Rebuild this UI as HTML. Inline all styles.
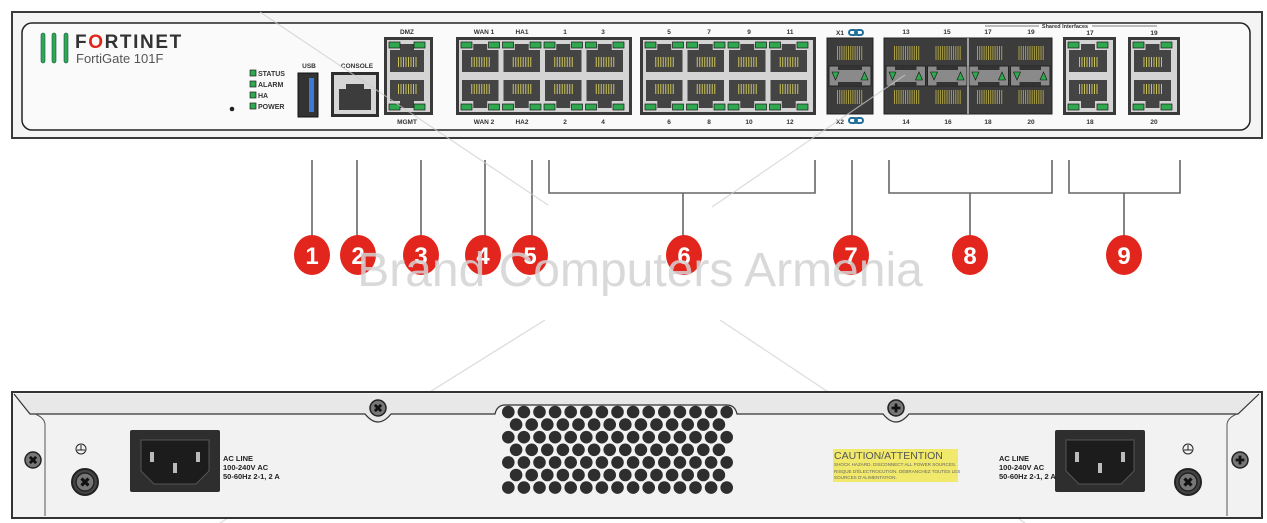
<!DOCTYPE html>
<html><head><meta charset="utf-8"><style>
html,body{margin:0;padding:0;background:#fff;width:1267px;height:523px;overflow:hidden}
svg{display:block;font-family:"Liberation Sans",Arial,sans-serif}
</style></head><body>
<svg id="s" width="1267" height="523" viewBox="0 0 1267 523" xmlns="http://www.w3.org/2000/svg">
<rect x="12" y="12" width="1250" height="126" fill="#f4f4f4" stroke="#3a3a3a" stroke-width="2"/>
<rect x="22" y="23" width="1228" height="107" rx="10" fill="#fafafa" stroke="#222" stroke-width="1.5"/>
<rect x="41" y="33" width="4" height="30" rx="2" fill="#2fa84f" stroke="#155" stroke-width=".6"/>
<rect x="52" y="33" width="4" height="30" rx="2" fill="#2fa84f" stroke="#155" stroke-width=".6"/>
<rect x="64" y="33" width="4" height="30" rx="2" fill="#2fa84f" stroke="#155" stroke-width=".6"/>
<text x="75" y="48" font-size="19" font-weight="bold" fill="#333" letter-spacing="1.6">F<tspan fill="#e0241b">O</tspan>RTINET</text>
<text x="76" y="63" font-size="13" fill="#555">FortiGate 101F</text>
<g font-size="7" font-weight="bold" fill="#333">
<rect x="250" y="70" width="6" height="6" fill="#2fa84f" stroke="#222" stroke-width=".7"/><text x="258" y="76">STATUS</text>
<rect x="250" y="81" width="6" height="6" fill="#2fa84f" stroke="#222" stroke-width=".7"/><text x="258" y="87">ALARM</text>
<rect x="250" y="92" width="6" height="6" fill="#2fa84f" stroke="#222" stroke-width=".7"/><text x="258" y="98">HA</text>
<rect x="250" y="103" width="6" height="6" fill="#2fa84f" stroke="#222" stroke-width=".7"/><text x="258" y="109">POWER</text>
</g>
<circle cx="232" cy="109" r="2.3" fill="#222"/>
<g font-size="6.5" font-weight="bold" fill="#333" text-anchor="middle">
<text x="309" y="68">USB</text><text x="357" y="68">CONSOLE</text>
<text x="407" y="34">DMZ</text><text x="407" y="124">MGMT</text>
<text x="484" y="34">WAN 1</text><text x="522" y="34">HA1</text><text x="565" y="34">1</text><text x="603" y="34">3</text>
<text x="484" y="124">WAN 2</text><text x="522" y="124">HA2</text><text x="565" y="124">2</text><text x="603" y="124">4</text>
<text x="669" y="34">5</text><text x="709" y="34">7</text><text x="749" y="34">9</text><text x="790" y="34">11</text>
<text x="669" y="124">6</text><text x="709" y="124">8</text><text x="749" y="124">10</text><text x="790" y="124">12</text>
<text x="840" y="35">X1</text><text x="840" y="124">X2</text>
<text x="906" y="34">13</text><text x="947" y="34">15</text><text x="988" y="34">17</text><text x="1031" y="34">19</text>
<text x="906" y="124">14</text><text x="948" y="124">16</text><text x="988" y="124">18</text><text x="1031" y="124">20</text>
<text x="1090" y="35">17</text><text x="1154" y="35">19</text>
<text x="1090" y="124">18</text><text x="1154" y="124">20</text>
<text x="1065" y="28" font-size="5.5">Shared Interfaces</text>
</g>
<line x1="985" y1="26" x2="1039" y2="26" stroke="#555" stroke-width=".8"/>
<line x1="1092" y1="26" x2="1157" y2="26" stroke="#555" stroke-width=".8"/>
<g fill="none" stroke="#1f6f9a" stroke-width="2"><rect x="849" y="30" width="8" height="5" rx="2.5"/><rect x="855" y="30" width="8" height="5" rx="2.5"/>
<rect x="849" y="118" width="8" height="5" rx="2.5"/><rect x="855" y="118" width="8" height="5" rx="2.5"/></g>
<rect x="298" y="73" width="20" height="44" fill="#333" stroke="#111"/>
<rect x="309" y="78" width="5" height="34" fill="#3a7bd5"/>
<rect x="331" y="72" width="48" height="45" fill="#2e2e2e"/>
<rect x="334" y="75" width="42" height="39" fill="#d6d6d6"/>
<path d="M339 89 H346 V84 H364 V89 H371 V110 H339 Z" fill="#3c3c3c"/>
<g id="fr"></g>
<g stroke="#666" stroke-width="1.6" fill="none">
<path d="M312 160V245M357 160V245M421 160V245M485 160V245M532 160V245"/>
<path d="M549 160V193H815V160M683 193V245"/>
<path d="M852 160V245"/>
<path d="M889 160V193H1052V160M970 193V245"/>
<path d="M1069 160V193H1180V160M1124 193V245"/>
</g>
<g id="nums" font-size="24" font-weight="bold" fill="#fff" text-anchor="middle"></g>
<text x="640" y="286" font-size="48" fill="#d2d2d2" fill-opacity=".85" text-anchor="middle">Brand Computers Armenia</text>
<g stroke="#ccc" stroke-width="1.2" opacity=".7">
<line x1="260" y1="12" x2="548" y2="205"/><line x1="712" y1="207" x2="905" y2="75"/>
<line x1="545" y1="320" x2="220" y2="523"/><line x1="720" y1="320" x2="1025" y2="523"/>
</g>
<path d="M12 392 H1262 V518 H12 Z" fill="#f2f2f2" stroke="#333" stroke-width="2"/>
<path d="M14 394 L30 414 H365 Q378 430 391 414 H495 Q497 405 505 405 H727 Q735 405 737 414 H883 Q896 430 909 414 H1238 L1259 394" fill="#e8e8e8" stroke="#333" stroke-width="1.2"/>
<path d="M45 516 V425 Q45 418 35 414" fill="none" stroke="#555" stroke-width="1"/>
<path d="M1227 516 V425 Q1227 418 1237 414" fill="none" stroke="#555" stroke-width="1"/>
<g id="back"></g>
<g font-size="7.5" font-weight="bold" fill="#222">
<text x="223" y="461">AC LINE</text><text x="223" y="470">100-240V AC</text><text x="223" y="479">50-60Hz 2-1, 2 A</text>
<text x="999" y="461">AC LINE</text><text x="999" y="470">100-240V AC</text><text x="999" y="479">50-60Hz 2-1, 2 A</text>
</g>
<rect x="833" y="449" width="125" height="33" fill="#f1e96b"/>
<text x="834" y="459" font-size="10.5" fill="#555">CAUTION/ATTENTION</text>
<g font-size="4.6" fill="#666"><text x="834" y="466">SHOCK HAZARD. DISCONNECT ALL POWER SOURCES.</text><text x="834" y="473">RISQUE D'ÉLECTROCUTION. DÉBRANCHEZ TOUTES LES</text><text x="834" y="479">SOURCES D'ALIMENTATION.</text></g>
</svg>
<script>
var o="";
function led(x,y){return '<rect x="'+x+'" y="'+y+'" width="11" height="6" fill="#2fa84f" stroke="#1a1a1a" stroke-width=".7"/>';}
function pins(cx,y,h){var s='';for(var i=0;i<8;i++)s+='<rect x="'+(cx-9+i*2.5)+'" y="'+y+'" width="1" height="'+h+'" fill="#c9c25a"/>';return s;}
function col(x,w){var s='',cx=x+w/2;
 s+='<path d="M'+(x+1)+' 50 H'+(cx-7)+' V44 H'+(cx+7)+' V50 H'+(x+w-1)+' V72 H'+(x+1)+' Z" fill="#444"/>'+pins(cx,57,10);
 s+='<path d="M'+(x+1)+' 80 H'+(x+w-1)+' V101 H'+(cx+7)+' V108 H'+(cx-7)+' V101 H'+(x+1)+' Z" fill="#444"/>'+pins(cx,84,10);
 s+=led(x,42)+led(x+w-11,42)+led(x,104)+led(x+w-11,104);return s;}
function block(x,n,w){var s='<rect x="'+x+'" y="37" width="'+(n*w+10)+'" height="78" fill="#3a3a3a"/><rect x="'+(x+3)+'" y="40" width="'+(n*w+4)+'" height="72" fill="#d4d4d4"/>';
 for(var i=0;i<n;i++)s+=col(x+5+i*w,w-3);return s;}
o+=block(384,1,39);o+=block(456,4,41.5);o+=block(640,4,41.5);o+=block(1063,1,43);o+=block(1128,1,42);
function sfp(x,w){var s='';
 for(var i=0;i<12;i++)s+='<rect x="'+(x+9+i*2.2)+'" y="46" width="1" height="14" fill="#a89d45"/><rect x="'+(x+9+i*2.2)+'" y="90" width="1" height="14" fill="#a89d45"/>';
 s+='<rect x="'+(x+1)+'" y="66" width="'+(w-2)+'" height="20" fill="#8a8a8a" stroke="#222"/><rect x="'+(x+10)+'" y="66" width="'+(w-20)+'" height="4" fill="#333"/><rect x="'+(x+10)+'" y="82" width="'+(w-20)+'" height="4" fill="#333"/>';
 s+='<path d="M'+(x+4)+' 72 h7 l-3.5 8z" fill="#2fa84f" stroke="#111" stroke-width=".6"/><path d="M'+(x+w-11)+' 80 h7 l-3.5 -8z" fill="#2fa84f" stroke="#111" stroke-width=".6"/>';return s;}
o+='<rect x="827" y="38" width="46" height="76" fill="#3c3c3c" stroke="#222"/>'+sfp(828,44);
o+='<rect x="884" y="38" width="168" height="76" fill="#3c3c3c" stroke="#222"/>';
for(var i=0;i<4;i++)o+=sfp(885+i*41.5,41.5);
o+='<line x1="968" y1="38" x2="968" y2="114" stroke="#fff" stroke-width="1"/>';
document.getElementById('fr').innerHTML=o;
var n=[[312,1],[358,2],[421,3],[483,4],[530,5],[684,6],[851,7],[970,8],[1124,9]],t='';
n.forEach(function(a){t+='<ellipse cx="'+a[0]+'" cy="255" rx="18" ry="20" fill="#e3261d"/><text x="'+a[0]+'" y="264">'+a[1]+'</text>';});
document.getElementById('nums').innerHTML=t;
var b='';
for(var r=0;r<7;r++){var off=r%2?7.8:0,c=r%2?14:15;for(var k=0;k<c;k++)b+='<circle cx="'+(508.3+off+k*15.6)+'" cy="'+(412+r*12.6)+'" r="6.3" fill="#2e2e2e"/>';}
function screw(x,y,r,plus){return '<circle cx="'+x+'" cy="'+y+'" r="'+r+'" fill="#777" stroke="#222" stroke-width="1.5"/><path d="M'+(x-r*0.55)+' '+y+'H'+(x+r*0.55)+'M'+x+' '+(y-r*0.55)+'V'+(y+r*0.55)+'" stroke="#111" stroke-width="'+(r*0.35)+'" '+(plus?'':'transform="rotate(45 '+x+' '+y+')"')+'/>';}
b+=screw(378,408,8,0)+screw(896,408,8,1)+screw(33,460,8,0)+screw(1240,460,8,1);
b+='<circle cx="85" cy="482" r="13" fill="#444" stroke="#222" stroke-width="2"/>'+screw(85,482,9,0);
b+='<circle cx="1188" cy="482" r="13" fill="#444" stroke="#222" stroke-width="2"/>'+screw(1188,482,9,0);
function gnd(x,y){return '<circle cx="'+x+'" cy="'+y+'" r="5" fill="none" stroke="#222"/><path d="M'+x+' '+(y-4)+'V'+(y+1)+'M'+(x-4)+' '+(y+1)+'H'+(x+4)+'" stroke="#222"/>';}
b+=gnd(81,449)+gnd(1188,449);
function inlet(x){return '<rect x="'+x+'" y="430" width="90" height="62" rx="2" fill="#2e2e2e"/><path d="M'+(x+11)+' 440 H'+(x+79)+' V471 L'+(x+66)+' 484 H'+(x+24)+' L'+(x+11)+' 471 Z" fill="#1c1c1c" stroke="#555"/><rect x="'+(x+20)+'" y="452" width="4" height="10" fill="#bbb"/><rect x="'+(x+66)+'" y="452" width="4" height="10" fill="#bbb"/><rect x="'+(x+43)+'" y="463" width="4" height="10" fill="#bbb"/>';}
b+=inlet(130)+inlet(1055);
document.getElementById('back').innerHTML=b;
</script>
</body></html>
